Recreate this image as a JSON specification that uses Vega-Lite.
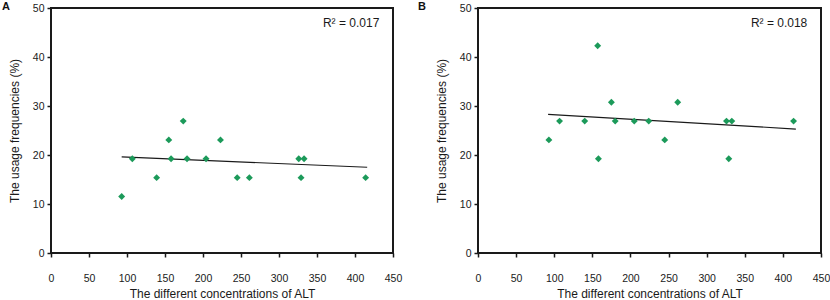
{
  "$schema": "https://vega.github.io/schema/vega-lite/v6.json",
  "background": "white",
  "padding": {"left": 1, "top": 0, "right": 0, "bottom": 0},
  "autosize": {"type": "pad"},
  "bounds": "flush",
  "spacing": 85,
  "datasets": {
    "pointsA": [
      {"alt": 93, "freq": 11.54}, {"alt": 107, "freq": 19.23}, {"alt": 139, "freq": 15.38},
      {"alt": 155, "freq": 23.08}, {"alt": 158, "freq": 19.23}, {"alt": 174, "freq": 26.92},
      {"alt": 179, "freq": 19.23}, {"alt": 204, "freq": 19.23}, {"alt": 223, "freq": 23.08},
      {"alt": 245, "freq": 15.38}, {"alt": 261, "freq": 15.38}, {"alt": 326, "freq": 19.23},
      {"alt": 329, "freq": 15.38}, {"alt": 333, "freq": 19.23}, {"alt": 414, "freq": 15.38}
    ],
    "trendA": [{"alt": 93, "freq": 19.6}, {"alt": 416, "freq": 17.5}],
    "pointsB": [
      {"alt": 93, "freq": 23.08}, {"alt": 107, "freq": 26.92}, {"alt": 140, "freq": 26.92},
      {"alt": 157, "freq": 42.31}, {"alt": 158, "freq": 19.23}, {"alt": 175, "freq": 30.77},
      {"alt": 180, "freq": 26.92}, {"alt": 205, "freq": 26.92}, {"alt": 224, "freq": 26.92},
      {"alt": 245, "freq": 23.08}, {"alt": 262, "freq": 30.77}, {"alt": 326, "freq": 26.92},
      {"alt": 329, "freq": 19.23}, {"alt": 333, "freq": 26.92}, {"alt": 414, "freq": 26.92}
    ],
    "trendB": [{"alt": 92, "freq": 28.3}, {"alt": 417, "freq": 25.3}],
    "one": [{}]
  },
  "config": {
    "font": "Liberation Sans",
    "view": {"stroke": "#1a1a1a", "strokeWidth": 2},
    "axis": {
      "grid": false,
      "domain": false,
      "tickColor": "#1a1a1a",
      "tickWidth": 1.5,
      "tickSize": 4,
      "labelFont": "Liberation Sans",
      "labelFontSize": 10.5,
      "labelColor": "#1a1a1a",
      "labelOverlap": false,
      "titleFont": "Liberation Sans",
      "titleFontSize": 12,
      "titleFontWeight": "normal",
      "titleColor": "#1a1a1a"
    },
    "axisX": {"labelPadding": 16, "titlePadding": 5, "labelFlush": false},
    "axisY": {"labelPadding": 3, "titlePadding": 11},
    "title": {
      "font": "Liberation Sans",
      "fontSize": 11,
      "fontWeight": "bold",
      "color": "#111111",
      "anchor": "start",
      "frame": "group",
      "offset": -9
    }
  },
  "hconcat": [
    {
      "width": 342,
      "height": 245,
      "title": {"text": "A", "dx": -49},
      "layer": [
        {
          "data": {"name": "trendA"},
          "mark": {"type": "line", "color": "#1a1a1a", "strokeWidth": 1.2},
          "encoding": {
            "x": {"field": "alt", "type": "quantitative", "scale": {"domain": [0, 450], "nice": false},
                  "axis": {"values": [0, 50, 100, 150, 200, 250, 300, 350, 400, 450], "labelOverlap": false},
                  "title": "The different concentrations of ALT"},
            "y": {"field": "freq", "type": "quantitative", "scale": {"domain": [0, 50], "nice": false},
                  "axis": {"values": [0, 10, 20, 30, 40, 50], "labelOverlap": false},
                  "title": "The usage frequencies (%)"}
          }
        },
        {
          "data": {"name": "pointsA"},
          "mark": {"type": "point", "shape": "diamond", "filled": true, "size": 48, "color": "#1c9a5a", "opacity": 1},
          "encoding": {
            "x": {"field": "alt", "type": "quantitative", "scale": {"domain": [0, 450], "nice": false},
                  "axis": {"values": [0, 50, 100, 150, 200, 250, 300, 350, 400, 450], "labelOverlap": false},
                  "title": "The different concentrations of ALT"},
            "y": {"field": "freq", "type": "quantitative", "scale": {"domain": [0, 50], "nice": false},
                  "axis": {"values": [0, 10, 20, 30, 40, 50], "labelOverlap": false},
                  "title": "The usage frequencies (%)"}
          }
        },
        {
          "data": {"name": "one"},
          "mark": {"type": "text", "text": "R² = 0.017", "align": "right", "baseline": "middle", "fontSize": 12, "color": "#1a1a1a"},
          "encoding": {
            "x": {"datum": 432, "type": "quantitative", "scale": {"domain": [0, 450], "nice": false},
                  "axis": {"values": [0, 50, 100, 150, 200, 250, 300, 350, 400, 450], "labelOverlap": false},
                  "title": "The different concentrations of ALT"},
            "y": {"datum": 47, "type": "quantitative", "scale": {"domain": [0, 50], "nice": false},
                  "axis": {"values": [0, 10, 20, 30, 40, 50], "labelOverlap": false},
                  "title": "The usage frequencies (%)"}
          }
        }
      ]
    },
    {
      "width": 343,
      "height": 245,
      "title": {"text": "B", "dx": -60},
      "layer": [
        {
          "data": {"name": "trendB"},
          "mark": {"type": "line", "color": "#1a1a1a", "strokeWidth": 1.2},
          "encoding": {
            "x": {"field": "alt", "type": "quantitative", "scale": {"domain": [0, 450], "nice": false},
                  "axis": {"values": [0, 50, 100, 150, 200, 250, 300, 350, 400, 450], "labelOverlap": false},
                  "title": "The different concentrations of ALT"},
            "y": {"field": "freq", "type": "quantitative", "scale": {"domain": [0, 50], "nice": false},
                  "axis": {"values": [0, 10, 20, 30, 40, 50], "labelOverlap": false},
                  "title": "The usage frequencies (%)"}
          }
        },
        {
          "data": {"name": "pointsB"},
          "mark": {"type": "point", "shape": "diamond", "filled": true, "size": 48, "color": "#1c9a5a", "opacity": 1},
          "encoding": {
            "x": {"field": "alt", "type": "quantitative", "scale": {"domain": [0, 450], "nice": false},
                  "axis": {"values": [0, 50, 100, 150, 200, 250, 300, 350, 400, 450], "labelOverlap": false},
                  "title": "The different concentrations of ALT"},
            "y": {"field": "freq", "type": "quantitative", "scale": {"domain": [0, 50], "nice": false},
                  "axis": {"values": [0, 10, 20, 30, 40, 50], "labelOverlap": false},
                  "title": "The usage frequencies (%)"}
          }
        },
        {
          "data": {"name": "one"},
          "mark": {"type": "text", "text": "R² = 0.018", "align": "right", "baseline": "middle", "fontSize": 12, "color": "#1a1a1a"},
          "encoding": {
            "x": {"datum": 432, "type": "quantitative", "scale": {"domain": [0, 450], "nice": false},
                  "axis": {"values": [0, 50, 100, 150, 200, 250, 300, 350, 400, 450], "labelOverlap": false},
                  "title": "The different concentrations of ALT"},
            "y": {"datum": 47, "type": "quantitative", "scale": {"domain": [0, 50], "nice": false},
                  "axis": {"values": [0, 10, 20, 30, 40, 50], "labelOverlap": false},
                  "title": "The usage frequencies (%)"}
          }
        }
      ]
    }
  ]
}
